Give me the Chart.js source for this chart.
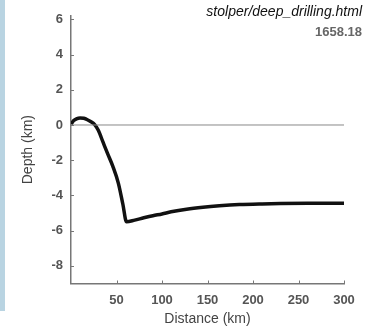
<!DOCTYPE html>
<html>
<head>
<meta charset="utf-8">
<script src="https://cdn.jsdelivr.net/npm/chart.js@4"></script>
<style>
	html, body { margin: 0; padding: 0; background: #fff; }
	#wrap { position: relative; width: 367px; height: 330px; overflow: hidden; }
	#strip { position: absolute; left: 0; top: 0; width: 5px; height: 311px; background: #b9d4e2; }
	.note { position: absolute; font-family: 'Liberation Sans', Arial, sans-serif; white-space: nowrap; }
	#url { right: 5px; top: 3px; font-size: 14px; font-style: italic; color: #111; }
	#num { right: 5px; top: 24px; font-size: 13px; font-weight: bold; color: #666; }
</style>
</head>
<body>
<div id="wrap">
	<canvas id="depth-chart" width="367" height="330"></canvas>
	<div id="strip"></div>
	<div class="note" id="url">stolper/deep_drilling.html</div>
	<div class="note" id="num">1658.18</div>
</div>
<script>
// profile
const distance = [0, 3, 6, 10, 14, 18, 22, 26, 30, 35, 40, 46, 52, 57, 61, 70, 80, 90, 100, 110, 127, 145, 163, 185, 210, 230, 260, 300];
const depth = [0.05, 0.25, 0.35, 0.4, 0.38, 0.3, 0.18, 0.02, -0.3, -0.95, -1.6, -2.35, -3.3, -4.5, -5.5, -5.4, -5.27, -5.15, -5.05, -4.93, -4.78, -4.67, -4.59, -4.52, -4.48, -4.46, -4.45, -4.45];
const seaLevelX = [0, 300];
const seaLevelY = [0, 0];
const xTicks = [50, 100, 150, 200, 250, 300];
const yTicks = [-8, -6, -4, -2, 0, 2, 4, 6];

const font = { family: "'Liberation Sans', Arial, sans-serif", size: 13, weight: 'bold' };
const titleFont = { family: "'Liberation Sans', Arial, sans-serif", size: 14 };

// matlab style ticks pointing into the plot
const innerTicks = {
	id: 'innerTicks',
	afterDraw(chart) {
		const { ctx, scales: { x, y } } = chart;
		ctx.save();
		ctx.strokeStyle = '#777';
		ctx.lineWidth = 1;
		ctx.beginPath();
		for (const v of xTicks) {
			const px = Math.round(x.getPixelForValue(v)) + 0.5;
			ctx.moveTo(px, y.bottom);
			ctx.lineTo(px, y.bottom - 3);
		}
		for (const v of yTicks) {
			const py = Math.round(y.getPixelForValue(v)) + 0.5;
			ctx.moveTo(x.left, py);
			ctx.lineTo(x.left + 3, py);
		}
		ctx.stroke();
		ctx.restore();
	},
};

new Chart('depth-chart', {
	type: 'line',
	data: {
		datasets: [
			{
				data: seaLevelX.map((d, i) => ({ x: d, y: seaLevelY[i] })),
				borderColor: '#888',
				borderWidth: 1,
				pointRadius: 0,
			},
			{
				data: distance.map((d, i) => ({ x: d, y: depth[i] })),
				borderColor: '#111',
				borderWidth: 3.5,
				pointRadius: 0,
				cubicInterpolationMode: 'monotone',
			},
		],
	},
	options: {
		responsive: false,
		animation: false,
		devicePixelRatio: 1,
		layout: { padding: { top: 13, right: 23, left: 0, bottom: 0 } },
		plugins: { legend: { display: false }, tooltip: { enabled: false } },
		scales: {
			x: {
				type: 'linear',
				min: 0,
				max: 300,
				afterBuildTicks: (s) => { s.ticks = xTicks.map((v) => ({ value: v })); },
				afterFit: (s) => { s.height = 46.5; },
				grid: { display: false, drawTicks: false },
				border: { color: '#777', width: 1.5 },
				ticks: { color: '#555', font, padding: 9, maxRotation: 0 },
				title: {
					display: true,
					text: 'Distance (km)',
					color: '#444',
					font: titleFont,
					padding: { top: 0, bottom: 2 },
				},
			},
			y: {
				type: 'linear',
				min: -9,
				max: 6.2,
				afterBuildTicks: (s) => { s.ticks = yTicks.map((v) => ({ value: v })); },
				afterFit: (s) => { s.width = 71; },
				grid: { display: false, drawTicks: false },
				border: { color: '#777', width: 1.5 },
				ticks: { color: '#555', font, padding: 8 },
				title: {
					display: true,
					text: 'Depth (km)',
					color: '#444',
					font: titleFont,
					padding: { top: 20, bottom: 0 },
				},
			},
		},
	},
	plugins: [innerTicks],
});
</script>
</body>
</html>
